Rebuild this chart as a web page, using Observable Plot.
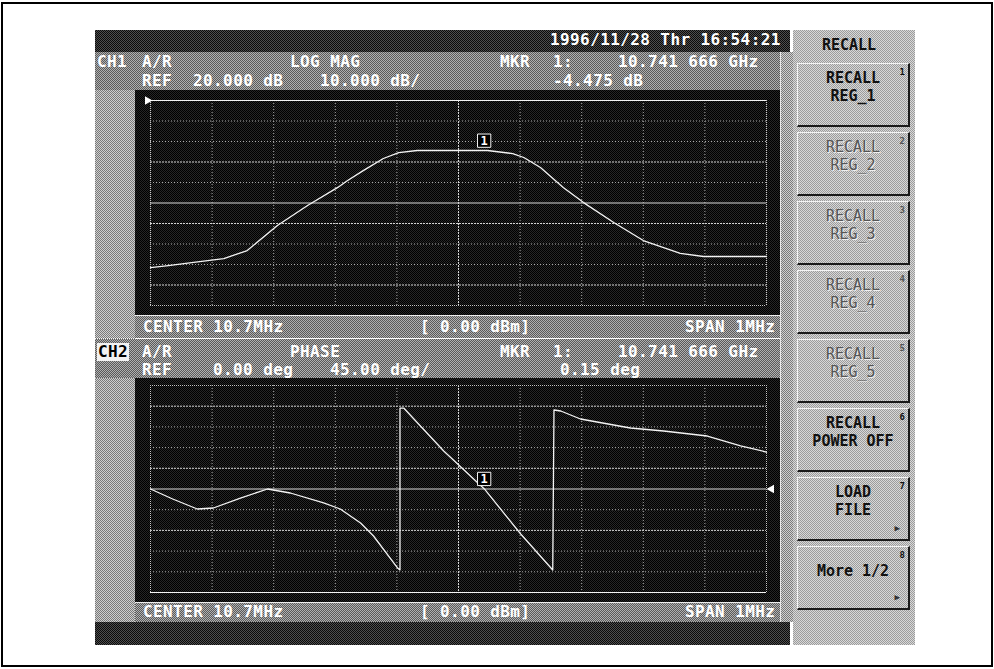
<!DOCTYPE html>
<html><head><meta charset="utf-8">
<script src="https://cdn.jsdelivr.net/npm/d3@7"></script>
<script src="https://cdn.jsdelivr.net/npm/@observablehq/plot@0.6"></script>
<style>
body{margin:0;background:#fff;}
#root{position:relative;width:994px;height:669px;overflow:hidden;background:#fff;font-family:"DejaVu Sans Mono",monospace;font-weight:bold;}
.abs{position:absolute;}
.tex-dark{background:repeating-conic-gradient(#0a0a0a 0 25%,#4e4e4e 0 50%) 0 0/2px 2px;}
.tex-mid{background:repeating-conic-gradient(#5a5a5a 0 25%,#b0b0b0 0 50%) 0 0/2px 2px;}
.tex-light{background:repeating-conic-gradient(#7a7a7a 0 25%,#d0d0d0 0 50%) 0 0/2px 2px;}
.tex-panel{background:repeating-conic-gradient(#9c9c9c 0 25%,#d8d8d8 0 50%) 0 0/2px 2px;}
.tex-plot{background:repeating-conic-gradient(#000 0 25%,#262626 0 50%) 0 0/2px 2px;}
.t{position:absolute;font-size:16px;line-height:18px;height:18px;color:#fff;white-space:pre;letter-spacing:0.4px;}
.sk{position:absolute;left:797px;width:110px;height:61px;border-top:1px solid #f4f4f4;border-left:1px solid #f4f4f4;border-right:2px solid #1a1a1a;border-bottom:2px solid #1a1a1a;}
.skt{position:absolute;left:0;width:110px;text-align:center;font-size:15px;line-height:16px;color:#111;white-space:pre;}
.skt.off{color:#555;font-weight:normal;text-shadow:1px 1px 0 #f0f0f0;}
.skn{position:absolute;right:3px;top:3px;font-size:9px;line-height:10px;color:#111;}
.ska{position:absolute;right:8px;bottom:6px;font-size:9px;line-height:10px;color:#333;}
</style>
</head><body>
<div id="root"></div>
<script>
// ---------- data ----------
const freqTicks = [10.2, 10.3, 10.4, 10.5, 10.6, 10.7, 10.8, 10.9, 11.0, 11.1, 11.2];
const magTicks = [20, 10, 0, -10, -20, -30, -40, -50, -60, -70, -80];
const phaseTicks = [225, 180, 135, 90, 45, 0, -45, -90, -135, -180, -225];

// CH1 LOG MAG trace (MHz, dB)
const magFreq = [10.200, 10.229, 10.270, 10.319, 10.357, 10.406, 10.455, 10.504, 10.520, 10.546, 10.578, 10.603, 10.633, 10.700, 10.747, 10.788, 10.806, 10.833, 10.870, 10.903, 10.952, 11.000, 11.060, 11.098, 11.150, 11.200];
const magDb   = [-61.5, -60.5, -59.0, -57.1, -53.2, -41.0, -31.2, -22.4, -19.0, -14.1, -8.3, -5.4, -4.4, -4.4, -4.4, -5.9, -7.8, -12.7, -22.4, -29.8, -39.5, -48.3, -54.6, -56.1, -56.1, -56.1];

// CH2 PHASE trace (MHz, deg)
const phaseFreq = [10.200, 10.236, 10.276, 10.302, 10.346, 10.390, 10.427, 10.481, 10.508, 10.541, 10.562, 10.601, 10.605, 10.605, 10.611, 10.676, 10.742, 10.801, 10.853, 10.855, 10.866, 10.898, 10.979, 11.033, 11.104, 11.158, 11.200];
const phaseDeg  = [0, -21.7, -43.5, -41.3, -19.6, 0, -8.7, -30.4, -43.5, -73.9, -102.2, -171.7, -176, 176, 176, 82.6, 0.15, -97.8, -176, 171.7, 169.6, 152.2, 132.6, 126.1, 115.2, 93.5, 80.4];

const markerFreq = 10.741666;
const markerMag = -4.475;
const markerPhase = 0.15;

const dateText = "1996/11/28 Thr 16:54:21";
const ch1Row1 = [["CH1", 97], ["A/R", 142], ["LOG MAG", 290], ["MKR", 500], ["1:", 553], ["10.741 666 GHz", 618]];
const ch1Row2 = [["REF", 142], ["20.000 dB", 193], ["10.000 dB/", 320], ["-4.475 dB", 553]];
const ch2Row1 = [["A/R", 142], ["PHASE", 290], ["MKR", 500], ["1:", 553], ["10.741 666 GHz", 618]];
const ch2Row2 = [["REF", 142], ["0.00 deg", 213], ["45.00 deg/", 330], ["0.15 deg", 560]];
const centerRow = [["CENTER 10.7MHz", 143], ["[ 0.00 dBm]", 420], ["SPAN 1MHz", 685]];

const panelTitle = "RECALL";
const softkeys = [
  {lines: ["RECALL", "REG_1"], n: "1", on: true},
  {lines: ["RECALL", "REG_2"], n: "2", on: false},
  {lines: ["RECALL", "REG_3"], n: "3", on: false},
  {lines: ["RECALL", "REG_4"], n: "4", on: false},
  {lines: ["RECALL", "REG_5"], n: "5", on: false},
  {lines: ["RECALL", "POWER OFF"], n: "6", on: true},
  {lines: ["LOAD", "FILE"], n: "7", on: true, arrow: true},
  {lines: ["More 1/2"], n: "8", on: true, arrow: true}
];

// ---------- layout helpers ----------
const root = document.getElementById("root");
function box(cls, l, t, w, h, style) {
  const d = document.createElement("div");
  d.className = "abs " + (cls || "");
  Object.assign(d.style, {left: l + "px", top: t + "px", width: w + "px", height: h + "px"}, style || {});
  root.appendChild(d);
  return d;
}
function label(text, x, yc, style, parent) {
  const s = document.createElement("div");
  s.className = "t";
  s.textContent = text;
  Object.assign(s.style, {left: x + "px", top: (yc - 9) + "px"}, style || {});
  (parent || root).appendChild(s);
  return s;
}

// outer frame
box("", 1, 2, 988, 661, {border: "2px solid #000"});
// screen background pieces
box("tex-dark", 95, 30, 695, 22);
box("tex-mid", 95, 52, 685, 38);
box("tex-light", 95, 90, 40, 532);
box("tex-plot", 135, 90, 645, 225);
box("", 135, 315, 645, 1, {background: "#eee"});
box("tex-mid", 135, 316, 645, 22);
box("", 95, 338, 695, 1, {background: "repeating-linear-gradient(90deg,#fff 0 1px,transparent 1px 2px)"});
box("tex-mid", 95, 339, 685, 39);
box("tex-plot", 135, 378, 645, 224);
box("", 135, 602, 645, 1, {background: "#eee"});
box("tex-mid", 135, 603, 645, 19);
box("tex-dark", 95, 622, 695, 23);
box("tex-light", 781, 52, 12, 570);
box("", 780, 52, 1, 570, {background: "#e8e8e8"});
box("tex-panel", 793, 30, 122, 615);

// texts
label(dateText, 550, 40);
ch1Row1.forEach(([t, x]) => label(t, x, 62));
ch1Row2.forEach(([t, x]) => label(t, x, 81));
centerRow.forEach(([t, x]) => label(t, x, 327));
label("CH2", 97, 352, {background: "#f2f2f2", color: "#000", padding: "0 1px"});
ch2Row1.forEach(([t, x]) => label(t, x, 352));
ch2Row2.forEach(([t, x]) => label(t, x, 370));
centerRow.forEach(([t, x]) => label(t, x, 612));

// softkey panel
const title = document.createElement("div");
title.className = "skt";
Object.assign(title.style, {left: "793px", width: "112px", top: "37px", position: "absolute"});
title.textContent = panelTitle;
root.appendChild(title);
const skTops = [63, 132, 201, 270, 339, 408, 477, 546];
softkeys.forEach((k, i) => {
  const b = box("sk", 797, skTops[i], 110, 61);
  b.className = "sk";
  const ys = k.lines.length === 1 ? [16] : [6, 24];
  k.lines.forEach((ln, j) => {
    const t = document.createElement("div");
    t.className = "skt" + (k.on ? "" : " off");
    t.style.top = ys[j] + "px";
    t.textContent = ln;
    b.appendChild(t);
  });
  const n = document.createElement("div");
  n.className = "skn";
  if (!k.on) n.style.color = "#555";
  n.textContent = k.n;
  b.appendChild(n);
  if (k.arrow) {
    const a = document.createElement("div");
    a.className = "ska";
    a.textContent = "▶";
    b.appendChild(a);
  }
});

// ---------- plots ----------
function tracePlot(o) {
  const data = o.freq.map((f, i) => ({f, v: o.vals[i]}));
  const yLo = o.yTicks[o.yTicks.length - 1], yHi = o.yTicks[0];
  const inner = o.yTicks.slice(1, -1);
  const centerY = o.yTicks[5];
  const normalY = inner.filter(v => v !== centerY && !o.emph.includes(v));
  const innerX = freqTicks.slice(1, -1).filter(v => v !== 10.7);
  const mk = [{f: markerFreq, v: o.markerVal}];
  return Plot.plot({
    width: 645, height: o.height,
    marginLeft: 15, marginRight: 14, marginTop: o.mt, marginBottom: o.mb,
    x: {domain: [freqTicks[0], freqTicks[freqTicks.length - 1]], axis: null},
    y: {domain: [yLo, yHi], axis: null},
    style: {background: "transparent", overflow: "visible"},
    marks: [
      Plot.ruleX(innerX, {stroke: "#a8a8a8", strokeDasharray: "1,2"}),
      Plot.ruleX([freqTicks[0], freqTicks[freqTicks.length - 1]], {stroke: "#c8c8c8", strokeDasharray: "1,1"}),
      Plot.ruleX([10.7], {stroke: "#d8d8d8", strokeDasharray: "2,1"}),
      Plot.ruleY(normalY, {stroke: "#a8a8a8", strokeDasharray: "1,2"}),
      Plot.ruleY(o.emph, {stroke: "#d4d4d4", strokeDasharray: "2,1"}),
      Plot.ruleY([centerY], {stroke: "#d8d8d8", strokeDasharray: o.centerSolid ? null : "2,1"}),
      Plot.ruleY([yHi], {stroke: o.topSolid ? "#f4f4f4" : "#c8c8c8", strokeDasharray: o.topSolid ? null : "1,1"}),
      Plot.ruleY([yLo], {stroke: o.bottomSolid ? "#f4f4f4" : "#c8c8c8", strokeDasharray: o.bottomSolid ? null : "1,1"}),
      Plot.line(data, {x: "f", y: "v", stroke: "#f4f4f4", strokeWidth: 1.3}),
      Plot.dot(mk, {x: "f", y: "v", symbol: "square", r: 7.5, dy: -10, fill: "#000", stroke: "#f4f4f4", strokeWidth: 1}),
      Plot.text(mk, {x: "f", y: "v", text: () => "1", dy: -10, fill: "#fff", fontSize: 12, fontWeight: "bold", fontFamily: "DejaVu Sans Mono"}),
      Plot.dot([{f: o.refF, v: o.refV}], {x: "f", y: "v", symbol: "triangle", r: 3.2, rotate: o.refRot, dx: o.refDx, fill: "#fff", stroke: "none"})
    ]
  });
}

const p1 = tracePlot({freq: magFreq, vals: magDb, yTicks: magTicks, emph: [-10, -40, -70], centerSolid: true, topSolid: true, bottomSolid: false,
  markerVal: markerMag, height: 225, mt: 10, mb: 10, refF: 10.2, refV: 20, refRot: 90, refDx: -3});
box("", 135, 90, 645, 225).appendChild(p1);
const p2 = tracePlot({freq: phaseFreq, vals: phaseDeg, yTicks: phaseTicks, emph: [180, 45, -90], centerSolid: true, topSolid: false, bottomSolid: true,
  markerVal: markerPhase, height: 224, mt: 7, mb: 10, refF: 11.2, refV: 0, refRot: -90, refDx: 5});
box("", 135, 378, 645, 224).appendChild(p2);
</script>
</body></html>
